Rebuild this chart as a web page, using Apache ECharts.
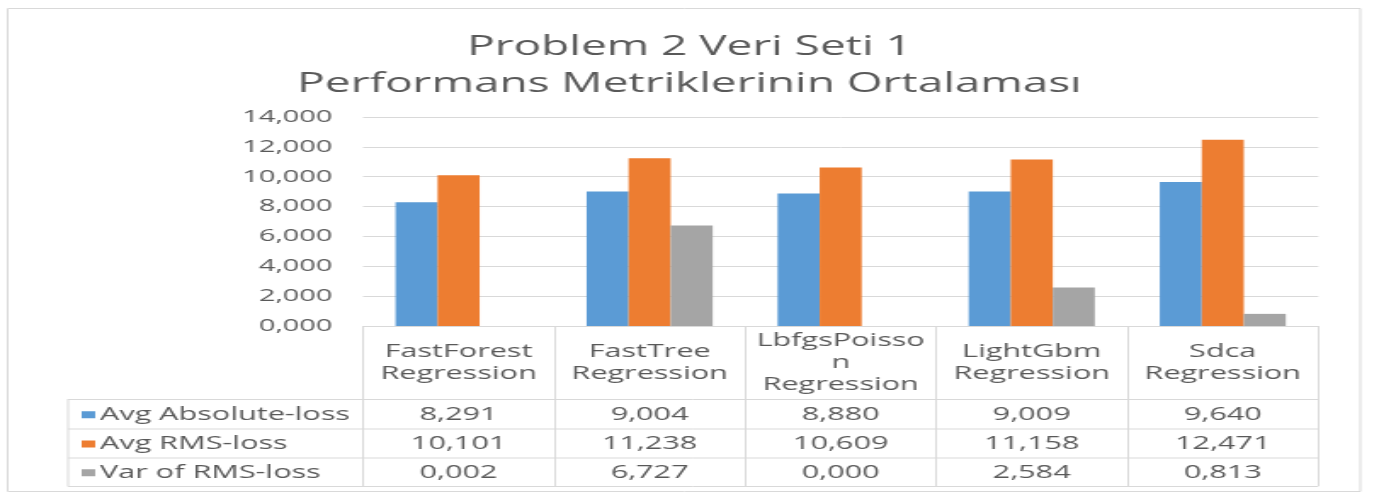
<!DOCTYPE html>
<html>
<head>
<meta charset="utf-8">
<script src="https://cdn.jsdelivr.net/npm/echarts@6/dist/echarts.min.js"></script>
<style>
    html, body { margin: 0; padding: 0; background: #fff; overflow: hidden; }
    /* the source picture is stretched sideways, so the chart is drawn narrow and widened */
    #main { width: 811px; height: 496px; transform: scaleX(1.70037); transform-origin: 0 0; }
</style>
</head>
<body>
<div id="main"></div>
<script>
var categories = ['FastForest\nRegression', 'FastTree\nRegression', 'LbfgsPoisso\nn\nRegression', 'LightGbm\nRegression', 'Sdca\nRegression'];
var seriesNames = ['Avg Absolute-loss', 'Avg RMS-loss', 'Var of RMS-loss'];
var absLoss = [8.291, 9.004, 8.880, 9.009, 9.640];
var rmsLoss = [10.101, 11.238, 10.609, 11.158, 12.471];
var rmsVar = [0.002, 6.727, 0.000, 2.584, 0.813];
var colors = ['#5b9bd5', '#ed7d31', '#a5a5a5'];

var textColor = '#595959';
var lineColor = '#d9d9d9';
var font = '"Open Sans", "Noto Sans", sans-serif';

function fmt(v) {
    return v.toFixed(3).replace('.', ',');
}

var myChart = echarts.init(document.getElementById('main'));

var allSeries = [absLoss, rmsLoss, rmsVar];

var option = {
    animation: false,
    title: {
        text: 'Problem 2 Veri Seti 1\nPerformans Metriklerinin Ortalaması',
        left: 'center',
        top: 24,
        textStyle: {
            fontFamily: font,
            fontSize: 27,
            fontWeight: 'normal',
            color: textColor,
            lineHeight: 37
        }
    },
    grid: {
        left: 213.5,
        right: 35.7,
        top: 117,
        bottom: 170
    },
    xAxis: {
        type: 'category',
        data: categories,
        axisLine: {
            show: true,
            lineStyle: { color: lineColor, width: 1 }
        },
        axisTick: {
            show: true,
            interval: 0,
            length: 160,
            lineStyle: { color: lineColor, width: 1 }
        },
        axisLabel: {
            interval: 0,
            margin: 37,
            verticalAlign: 'middle',
            lineHeight: 22,
            fontFamily: font,
            fontSize: 18,
            color: textColor
        }
    },
    yAxis: {
        type: 'value',
        min: 0,
        max: 14,
        interval: 2,
        axisLine: { show: false },
        axisTick: { show: false },
        axisLabel: {
            margin: 18,
            fontFamily: font,
            fontSize: 17,
            color: textColor,
            formatter: function (value) {
                return fmt(value);
            }
        },
        splitLine: {
            lineStyle: { color: lineColor, width: 1 }
        }
    },
    series: seriesNames.map(function (name, k) {
        return {
            type: 'bar',
            name: name,
            data: allSeries[k],
            barGap: '0%',
            barCategoryGap: '34%',
            itemStyle: { color: colors[k] }
        };
    })
};

myChart.setOption(option);

// data table under the axis
var tableLeft = 40;
var tableRight = myChart.convertToPixel({ xAxisIndex: 0 }, categories.length - 1) +
    (myChart.convertToPixel({ xAxisIndex: 0 }, 1) - myChart.convertToPixel({ xAxisIndex: 0 }, 0)) / 2;
var rowTops = [399, 428.5, 457.5, 486];
var graphics = [];

rowTops.forEach(function (y) {
    graphics.push({
        type: 'line',
        shape: { x1: tableLeft, y1: y + 0.5, x2: tableRight, y2: y + 0.5 },
        style: { stroke: lineColor, lineWidth: 1 },
        silent: true
    });
});
graphics.push({
    type: 'line',
    shape: { x1: tableLeft, y1: rowTops[0], x2: tableLeft, y2: rowTops[3] + 0.5 },
    style: { stroke: lineColor, lineWidth: 1 },
    silent: true
});

for (var k = 0; k < allSeries.length; k++) {
    var mid = (rowTops[k] + rowTops[k + 1]) / 2 + 1;
    graphics.push({
        type: 'rect',
        shape: { x: 48, y: mid - 3.5, width: 8, height: 7 },
        style: { fill: colors[k] },
        silent: true
    });
    graphics.push({
        type: 'text',
        style: {
            text: seriesNames[k],
            x: 58.8,
            y: mid,
            align: 'left',
            verticalAlign: 'middle',
            fontFamily: font,
            fontSize: 18,
            fill: textColor
        },
        silent: true
    });
    for (var i = 0; i < categories.length; i++) {
        graphics.push({
            type: 'text',
            style: {
                text: fmt(allSeries[k][i]),
                x: myChart.convertToPixel({ xAxisIndex: 0 }, i),
                y: mid,
                align: 'center',
                verticalAlign: 'middle',
                fontFamily: font,
                fontSize: 18,
                fill: textColor
            },
            silent: true
        });
    }
}

// outer chart border
graphics.push({
    type: 'rect',
    shape: { x: 4.5, y: 8.5, width: 795.5, height: 483 },
    style: { fill: 'none', stroke: lineColor, lineWidth: 1 },
    silent: true
});

myChart.setOption({ graphic: graphics });
</script>
</body>
</html>
